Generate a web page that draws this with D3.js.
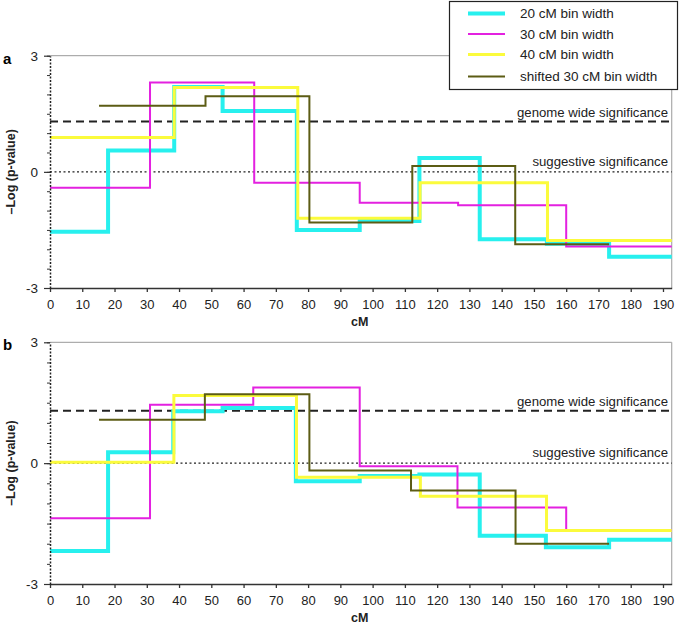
<!DOCTYPE html>
<html><head><meta charset="utf-8">
<script src="https://cdn.jsdelivr.net/npm/d3@7"></script>
<style>body{margin:0;background:#fff}svg{display:block}text{font-family:"Liberation Sans",Arial,sans-serif}</style>
</head><body>
<svg id="c" width="685" height="629"></svg>
<script>
// ---- data (bin edges in cM, step values in -log p) ----
const xTicks = [0,10,20,30,40,50,60,70,80,90,100,110,120,130,140,150,160,170,180,190];
const yTickLabels = [-3, 0, 3];
const genomeWide = 1.3;
const suggestive = 0;
const seriesNames = ["20 cM bin width","30 cM bin width","40 cM bin width","shifted 30 cM bin width"];

const a20Edges = [0,18,38.5,53.5,76.5,96,114.5,133.2,154,173.3,192.7];
const a20Vals  = [-1.55,0.55,2.19,1.57,-1.50,-1.27,0.36,-1.74,-1.86,-2.19];
const a30Edges = [0,31,63.3,96,126.5,160,192.7];
const a30Vals  = [-0.41,2.31,-0.28,-0.80,-0.86,-1.93];
const a40Edges = [0,38.5,76.8,114.7,154.2,192.7];
const a40Vals  = [0.89,2.18,-1.20,-0.28,-1.77];
const aShEdges = [15.2,48.2,80.4,112.3,144.2,173.3];
const aShVals  = [1.71,1.95,-1.31,0.15,-1.87];

const b20Edges = [0,18,38.2,53.5,76.2,96,114.5,133.2,153.7,173.3,192.7];
const b20Vals  = [-2.18,0.27,1.29,1.37,-0.45,-0.32,-0.28,-1.80,-2.09,-1.90];
const b30Edges = [0,31,63,96,126.3,160,192.7];
const b30Vals  = [-1.37,1.45,1.88,-0.08,-1.10,-1.66];
const b40Edges = [0,38.4,76.4,114.8,153.9,192.7];
const b40Vals  = [0.02,1.68,-0.35,-0.82,-1.67];
const bShEdges = [15.2,48,80.4,111.9,144.3,173.3];
const bShVals  = [1.08,1.71,-0.18,-0.68,-2.00];

const colors = ["#27f0ee","#e321e0","#fbfb3c","#5c5c14"];
const widths = [4,2,3,2];

const svg = d3.select("#c");
const xDomain = [0,192.7];

function panel(opt){
  const x = d3.scaleLinear().domain(xDomain).range([50,671.7]);
  const y = d3.scaleLinear().domain([-3,3]).range([opt.bottom,opt.top]);
  const g = svg.append("g");
  // frame (top & right gray)
  g.append("line").attr("x1",50).attr("x2",opt.topEnd).attr("y1",opt.top).attr("y2",opt.top)
    .attr("stroke","#999").attr("stroke-width",1);
  g.append("line").attr("x1",671.7).attr("x2",671.7).attr("y1",opt.rightStart).attr("y2",opt.bottom)
    .attr("stroke","#aaa").attr("stroke-width",1.2);
  // reference lines
  g.append("line").attr("x1",50).attr("x2",671.7).attr("y1",y(genomeWide)).attr("y2",y(genomeWide))
    .attr("stroke","#222").attr("stroke-width",2).attr("stroke-dasharray","8,5");
  g.append("line").attr("x1",50).attr("x2",671.7).attr("y1",y(suggestive)).attr("y2",y(suggestive))
    .attr("stroke","#222").attr("stroke-width",1.3).attr("stroke-dasharray","2,2.5");
  g.append("text").attr("x",668).attr("y",y(genomeWide)-5).attr("text-anchor","end")
    .attr("font-size",13.2).attr("fill","#222").text("genome wide significance");
  g.append("text").attr("x",668).attr("y",y(suggestive)-6).attr("text-anchor","end")
    .attr("font-size",13.2).attr("fill","#222").text("suggestive significance");
  // series
  const line = d3.line().x(d=>x(d[0])).y(d=>y(d[1])).curve(d3.curveStepAfter);
  opt.series.forEach((s,i)=>{
    const pts = s.edges.slice(0,-1).map((e,k)=>[e,s.vals[k]]);
    pts.push([s.edges[s.edges.length-1], s.vals[s.vals.length-1]]);
    g.append("path").attr("d",line(pts)).attr("fill","none")
      .attr("stroke",colors[i]).attr("stroke-width",widths[i]).attr("stroke-linejoin","miter");
  });
  // x axis
  const xa = g.append("g").attr("transform",`translate(0,${opt.bottom})`)
    .call(d3.axisBottom(x).tickValues(xTicks).tickSize(4).tickSizeOuter(0).tickPadding(8));
  xa.select(".domain").attr("stroke","#333").attr("stroke-width",1.3);
  xa.selectAll(".tick line").attr("stroke","#333").attr("stroke-width",1.3);
  xa.selectAll("text").attr("font-size",13).attr("fill","#222").attr("font-family","Liberation Sans, Arial, sans-serif");
  // y axis (dotted with minor ticks)
  const ya = g.append("g").attr("transform","translate(50,0)")
    .call(d3.axisLeft(y).tickValues(d3.range(-3,3.01,0.5)).tickSize(3).tickSizeOuter(0).tickFormat(""));
  ya.select(".domain").attr("stroke","#222").attr("stroke-width",1.5).attr("stroke-dasharray","2,1.5");
  ya.selectAll(".tick line").attr("stroke","#333");
  const yl = g.append("g").attr("transform","translate(50,0)")
    .call(d3.axisLeft(y).tickValues(yTickLabels).tickFormat(d=>String(d)).tickSize(6).tickPadding(6));
  yl.select(".domain").remove();
  yl.selectAll(".tick line").attr("stroke","#333").attr("stroke-width",1.2);
  yl.selectAll("text").attr("font-size",13.5).attr("fill","#222").attr("font-family","Liberation Sans, Arial, sans-serif");
  // labels
  g.append("text").attr("x",3).attr("y",opt.top+8).attr("font-size",15).attr("font-weight","bold").text(opt.letter);
  g.append("text").attr("transform",`translate(15,${(opt.top+opt.bottom)/2}) rotate(-90)`)
    .attr("text-anchor","middle").attr("font-size",12.5).attr("font-weight","bold").attr("fill","#222")
    .text("–Log (p-value)");
  g.append("text").attr("x",x(96)).attr("y",opt.bottom+38).attr("text-anchor","middle")
    .attr("font-size",12.5).attr("font-weight","bold").attr("fill","#222").text("cM");
}

panel({top:55.7,bottom:288,topEnd:449,rightStart:89,letter:"a",series:[
  {edges:a20Edges,vals:a20Vals},{edges:a30Edges,vals:a30Vals},
  {edges:a40Edges,vals:a40Vals},{edges:aShEdges,vals:aShVals}]});
panel({top:342.3,bottom:584,topEnd:671.7,rightStart:342.3,letter:"b",series:[
  {edges:b20Edges,vals:b20Vals},{edges:b30Edges,vals:b30Vals},
  {edges:b40Edges,vals:b40Vals},{edges:bShEdges,vals:bShVals}]});

// legend
const lg = svg.append("g");
lg.append("rect").attr("x",449.5).attr("y",1.5).attr("width",228).attr("height",88)
  .attr("fill","#fff").attr("stroke","#222").attr("stroke-width",1.2);
const rowY = [13.5,34,54.5,76.5];
seriesNames.forEach((n,i)=>{
  lg.append("line").attr("x1",468).attr("x2",505).attr("y1",rowY[i]).attr("y2",rowY[i])
    .attr("stroke",colors[i]).attr("stroke-width",widths[i]);
  lg.append("text").attr("x",520).attr("y",rowY[i]+4.5).attr("font-size",13.5).attr("fill","#222").text(n);
});
</script>
</body></html>
